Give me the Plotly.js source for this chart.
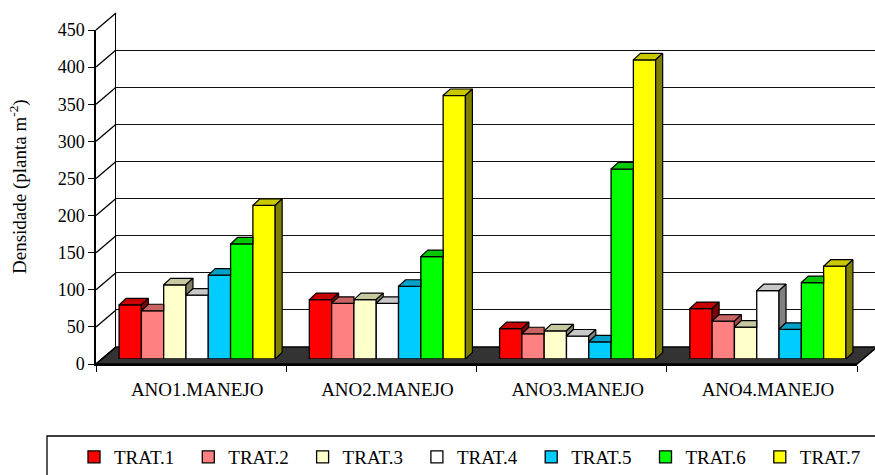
<!DOCTYPE html>
<html>
<head>
<meta charset="utf-8">
<script src="https://cdn.plot.ly/plotly-3.0.1.min.js"></script>
<style>
html,body{margin:0;padding:0;background:#fff;}
#chart text, #chart tspan { font-family: 'Liberation Serif', 'Times New Roman', serif !important; }
</style>
</head>
<body>
<div id="chart"></div>
<script>
// ---------- data ----------
const categories = ['ANO1.MANEJO', 'ANO2.MANEJO', 'ANO3.MANEJO', 'ANO4.MANEJO'];
const seriesNames = ['TRAT.1', 'TRAT.2', 'TRAT.3', 'TRAT.4', 'TRAT.5', 'TRAT.6', 'TRAT.7'];
const trat1 = [73, 80, 41, 68];
const trat2 = [65, 75, 34, 51];
const trat3 = [100, 80, 38, 43];
const trat4 = [86, 75, 31, 92];
const trat5 = [113, 98, 23, 40];
const trat6 = [155, 138, 256, 103];
const trat7 = [207, 355, 403, 125];
const yTicks = [0, 50, 100, 150, 200, 250, 300, 350, 400, 450];
const yTitle = 'Densidade (planta m<sup>-2</sup>)';

// ---------- styles ----------
const frontColors = ['#FF0000', '#FF8080', '#FFFFCC', '#FFFFFF', '#00CCFF', '#00FF00', '#FFFF00'];
const topColors   = ['#C80000', '#C86464', '#C8C8A0', '#C8C8C8', '#00A0C8', '#00C800', '#C8C800'];
const sideColors  = ['#800000', '#A04848', '#808066', '#808080', '#006680', '#008000', '#808000'];
const FONT = 'Liberation Serif';

// ---------- geometry (pixels) ----------
const W = 875, H = 475, ML = 96, MR = 0, MT = 13, MB = 111;
const PW = W - ML - MR, PH = H - MT - MB;
const AX_W = 761, AX_H = 334;           // front axis lengths
const NCAT = categories.length, YMAX = 450;
const BAR_OFF = [6, 5], BACK_OFF = [20, 17]; // depth planes
const BW = 0.1172;                      // bar width in category units
const pxPerX = AX_W / NCAT, pxPerY = AX_H / YMAX;
const DX = 7 / pxPerX, DY = 6.5 / pxPerY;   // bar depth

const series = [trat1, trat2, trat3, trat4, trat5, trat6, trat7];
const traces = [];
traces.push({type: 'scatter', x: [], y: [], xaxis: 'x', yaxis: 'y', showlegend: false, hoverinfo: 'skip'});

series.forEach((vals, k) => {
  const xs = categories.map((c, g) => g + 0.5 + (k - 3) * BW);
  traces.push({
    type: 'bar', name: seriesNames[k], x: xs, y: vals, width: BW,
    xaxis: 'x2', yaxis: 'y2',
    marker: {color: frontColors[k], line: {color: '#000', width: 1.3}}
  });
  const tx = [], ty = [], sx = [], sy = [];
  vals.forEach((v, g) => {
    const xl = xs[g] - BW / 2, xr = xs[g] + BW / 2;
    const next = k < series.length - 1 ? series[k + 1][g] : null;
    const xrBack = (next !== null && next > v) ? xr : xr + DX;
    tx.push(xl, xl + DX, xrBack, xr, xl, null);
    ty.push(v, v + DY, v + DY, v, v, null);
    if (next === null || next < v) {
      const b = next === null ? 0 : next;
      sx.push(xr, xr, xr + DX, xr + DX, xr, null);
      sy.push(b, v, v + DY, b + DY, b, null);
    }
  });
  traces.push({type: 'scatter', mode: 'lines', x: tx, y: ty, fill: 'toself', fillcolor: topColors[k],
    line: {color: '#000', width: 1.2}, xaxis: 'x2', yaxis: 'y2', showlegend: false, hoverinfo: 'skip'});
  if (sx.length) traces.push({type: 'scatter', mode: 'lines', x: sx, y: sy, fill: 'toself', fillcolor: sideColors[k],
    line: {color: '#000', width: 1.2}, xaxis: 'x2', yaxis: 'y2', showlegend: false, hoverinfo: 'skip'});
});
traces.push({type: 'scatter', x: [], y: [], xaxis: 'x3', yaxis: 'y3', showlegend: false, hoverinfo: 'skip'});

const hidden = {showgrid: false, zeroline: false, showticklabels: false, ticks: '', showline: false};

const shapes = [];
const backX = BACK_OFF[0] / PW, backY = BACK_OFF[1] / PH;
yTicks.forEach(v => {
  const yf = v * pxPerY / PH;
  shapes.push({type: 'line', xref: 'paper', yref: 'paper', x0: 0, y0: yf, x1: backX, y1: yf + backY,
    line: {color: '#000', width: 1.3}});
});
const fr = AX_W / PW;
shapes.push({type: 'path', xref: 'paper', yref: 'paper', layer: 'below',
  path: `M0,0 L${fr},0 L${fr + backX},${backY} L${backX},${backY} Z`,
  fillcolor: '#333333', line: {color: '#000', width: 1.5}});
shapes.push({type: 'rect', xref: 'paper', yref: 'paper',
  x0: (47 - ML) / PW, x1: (885 - ML) / PW, y0: (MT + PH - 436) / PH, y1: (MT + PH - 490) / PH,
  line: {color: '#000', width: 1.3}, fillcolor: 'rgba(0,0,0,0)'});

const layout = {
  width: W, height: H,
  margin: {l: ML, r: MR, t: MT, b: MB, autoexpand: false},
  paper_bgcolor: '#fff', plot_bgcolor: 'rgba(0,0,0,0)',
  font: {family: FONT, color: '#000', size: 18},
  barmode: 'overlay', showlegend: true,
  xaxis: Object.assign({}, hidden, {domain: [BACK_OFF[0] / PW, 1], range: [0, (PW - BACK_OFF[0]) / pxPerX], anchor: 'y'}),
  yaxis: {domain: [BACK_OFF[1] / PH, (BACK_OFF[1] + AX_H) / PH], range: [0, YMAX], tickvals: yTicks,
    showgrid: true, gridcolor: '#111', gridwidth: 1.3, zeroline: false, showticklabels: false, ticks: '',
    showline: true, linecolor: '#000', linewidth: 1.3, anchor: 'x'},
  xaxis2: Object.assign({}, hidden, {domain: [BAR_OFF[0] / PW, (BAR_OFF[0] + AX_W) / PW], range: [0, NCAT],
    anchor: 'free', position: 0, showticklabels: true, tickvals: categories.map((c, i) => i + 0.5), ticktext: categories,
    tickfont: {family: FONT, size: 19, color: '#000'}, ticklabelstandoff: 12}),
  yaxis2: Object.assign({}, hidden, {domain: [BAR_OFF[1] / PH, (BAR_OFF[1] + AX_H) / PH], range: [0, YMAX], anchor: 'x2'}),
  xaxis3: {domain: [0, AX_W / PW], range: [0, NCAT], tickvals: [0, 1, 2, 3, 4], showticklabels: false,
    ticks: 'outside', ticklen: 6, tickwidth: 1.3, tickcolor: '#000', showline: true, linecolor: '#000', linewidth: 2,
    showgrid: false, zeroline: false, anchor: 'y3'},
  yaxis3: {domain: [0, AX_H / PH], range: [0, YMAX], tickvals: yTicks, ticks: 'outside', ticklen: 6, tickwidth: 1.3,
    tickcolor: '#000', showline: true, linecolor: '#000', linewidth: 1.5, showgrid: false, zeroline: false,
    tickfont: {family: FONT, size: 18, color: '#000'}, anchor: 'x3'},
  legend: {orientation: 'h', x: (74 - ML) / PW, xanchor: 'left', y: (MT + PH - 457) / PH, yanchor: 'middle',
    font: {family: FONT, size: 19, color: '#000'}, bgcolor: 'rgba(0,0,0,0)', borderwidth: 0,
    entrywidth: 69.3, entrywidthmode: 'pixels', traceorder: 'normal'},
  annotations: [{text: yTitle, textangle: -90, xref: 'paper', yref: 'paper',
    x: (18 - ML) / PW, y: (MT + PH - 187) / PH, xanchor: 'center', yanchor: 'middle', showarrow: false,
    font: {family: FONT, size: 19, color: '#000'}}],
  shapes: shapes
};

Plotly.newPlot('chart', traces, layout, {displayModeBar: false});
</script>
</body>
</html>
